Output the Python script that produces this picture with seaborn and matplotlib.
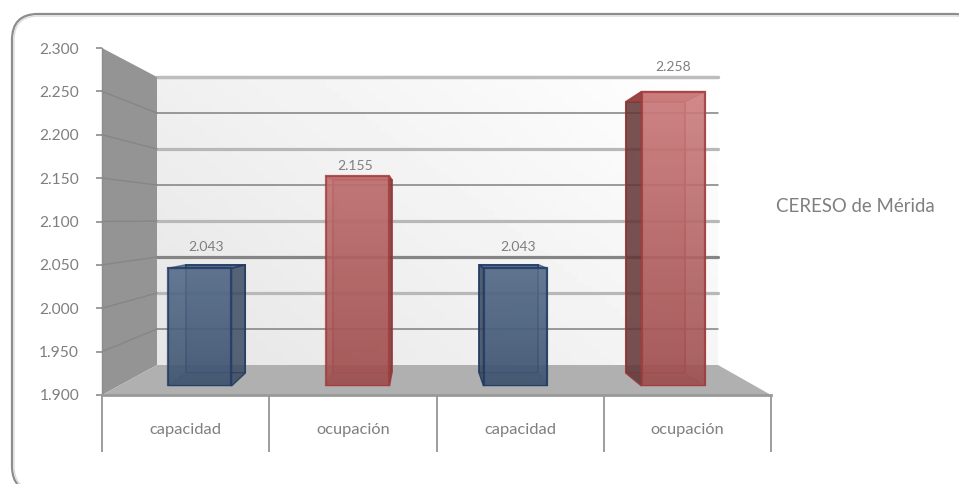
import numpy as np
import pandas as pd
import matplotlib.pyplot as plt
import seaborn as sns
from matplotlib.colors import to_rgb
from matplotlib.patches import FancyBboxPatch, Polygon
from matplotlib.transforms import IdentityTransform

# values
categories = ["capacidad", "ocupación", "capacidad", "ocupación"]
values = [2.043, 2.155, 2.043, 2.258]
kinds = ["cap", "ocu", "cap", "ocu"]
y_ticks = [1.9, 1.95, 2.0, 2.05, 2.1, 2.15, 2.2, 2.25, 2.3]
series_name = "CERESO de Mérida"

sns.set_theme(style="white")
plt.rcParams['font.family'] = ['Lato', 'DejaVu Sans']

W, H = 959, 484
GREY = "#7f7f7f"
face = {"cap": ("#7890b0", "#3e5370"), "ocu": ("#cc7c7c", "#9f4f4f")}
edge = {"cap": "#1f3a63", "ocu": "#a23a3a"}
side = {"cap": "#36455c", "ocu": "#5e3434"}

# the gridlines on the back wall alternate in the original
grid_style = {1.95: ("#808080", 1.1), 2.0: ("#b8b8b8", 2.3), 2.05: ("#858585", 2.3),
              2.1: ("#b8b8b8", 2.3), 2.15: ("#808080", 1.1), 2.2: ("#b8b8b8", 2.3),
              2.25: ("#808080", 1.1), 2.3: ("#bdbdbd", 2.5)}

df = pd.DataFrame({"slot": range(4), "value": values, "kind": kinds})

fig = plt.figure(figsize=(W / 100, H / 100), dpi=100)


def axes_px(x0, y0, x1, y1, z):
    # axes placed by pixel box, y counted from the top of the picture
    ax = fig.add_axes([x0 / W, 1 - y1 / H, (x1 - x0) / W, (y1 - y0) / H], zorder=z)
    ax.patch.set_alpha(0)
    return ax


# rounded frame runs off the right and bottom of the picture
# (filled white, an unfilled path gets bent when agg clips it at the canvas edge)
ax_top = axes_px(0, 0, W, H, -1)
ax_top.set_axis_off()
ax_top.set_xlim(0, W)
ax_top.set_ylim(H, 0)
ax_top.add_patch(FancyBboxPatch((12, 14), 968, 478, boxstyle="round,pad=0,rounding_size=26",
                                fc="white", ec="#8c8c8c", lw=1.6, clip_on=False))
ax_top.add_patch(FancyBboxPatch((14, 16), 964, 474, boxstyle="round,pad=0,rounding_size=24",
                                fc="white", ec="#dcdcdc", lw=1, clip_on=False))
ax_top.text(776, 207, series_name, color=GREY, fontsize=13.4, va="center", ha="left")

# back wall
ax_wall = axes_px(157, 77, 718, 365, 0)
ax_wall.set_axis_off()
xx, yy = np.meshgrid(np.linspace(0, 1, 80), np.linspace(0, 1, 80))
ax_wall.imshow(0.90 + 0.10 * (xx * 0.6 + yy * 0.4), cmap="gray", vmin=0, vmax=1,
               extent=(0, 1, 1.9, 2.3), aspect="auto", origin="lower")
ax_wall.set_xlim(0, 1)
ax_wall.set_ylim(1.9, 2.3)
for v, (c, lw) in grid_style.items():
    ax_wall.axhline(v, color=c, lw=lw, clip_on=False)

# front plane holds the axis ticks and category labels
ax_plane = axes_px(102, 48, 771, 395, 2)
ax_plane.set_xlim(0, 4)
ax_plane.set_ylim(1.9, 2.3)
for s in ["top", "right"]:
    ax_plane.spines[s].set_visible(False)
ax_plane.spines["left"].set_color("#8c8c8c")
ax_plane.spines["left"].set_linewidth(1)
ax_plane.spines["bottom"].set_color("#999999")
ax_plane.spines["bottom"].set_linewidth(2)
ax_plane.set_yticks(y_ticks)
ax_plane.set_yticklabels(["%.3f" % t for t in y_ticks], color=GREY, fontsize=11.2)
ax_plane.tick_params(axis="y", left=True, length=4, width=1.2, color="#8c8c8c", pad=12.5)
ax_plane.set_xticks(range(5))
ax_plane.set_xticklabels([])
ax_plane.tick_params(axis="x", bottom=True, length=41, width=1.2, color="#8c8c8c", which="major")
ax_plane.set_xticks([i + 0.5 for i in range(4)], minor=True)
ax_plane.set_xticklabels(categories, minor=True, color=GREY, fontsize=11.8)
ax_plane.tick_params(axis="x", which="minor", bottom=False, length=0, pad=20)

# side wall and floor, spanned between the front plane and the back wall
ax_floor = axes_px(0, 0, W, H, 1)
ax_floor.set_axis_off()
to_disp_f = ax_plane.transData.transform
to_disp_w = ax_wall.transData.transform
pf = lambda x, y: to_disp_f((x, y))
pw = lambda x, y: to_disp_w((x, y))
ax_floor.add_patch(Polygon([pf(0, 2.3), pw(0, 2.3), pw(0, 1.9), pf(0, 1.9)], fc="#949494", ec="none",
                           transform=IdentityTransform()))
ax_floor.add_patch(Polygon([pf(0, 1.9), pw(0, 1.9), pw(1, 1.9), pf(4, 1.9)], fc="#b0b0b0", ec="none",
                           transform=IdentityTransform()))
for v in y_ticks[1:-1]:
    a, b = pf(0, v), pw(0, v)
    ax_floor.plot([a[0], b[0]], [a[1], b[1]], color="#868686", lw=1, transform=IdentityTransform())

# bars: one seaborn barplot for the back faces, one for the front faces
ax_back = axes_px(142.4, 70, 728.6, 373, 3)
sns.barplot(data=df, x="slot", y="value", ax=ax_back, width=0.405, color="grey", legend=False)
ax_front = axes_px(120.5, 57, 752.5, 386, 5)
sns.barplot(data=df, x="slot", y="value", ax=ax_front, width=0.405, color="grey", legend=False)
for ax in [ax_back, ax_front]:
    ax.set_xlim(-0.5, 3.5)
    ax.set_ylim(1.9, 2.3)
    ax.set_axis_off()
    # the value axis starts at 1.900, so the bars do too
    for bar, v in zip(ax.patches, values):
        bar.set_y(1.9)
        bar.set_height(v - 1.9)

ax_side = axes_px(0, 0, W, H, 4)
ax_side.set_axis_off()
label_shift = [(7, 21), (-2, 10), (3, 21), (0, 25)]

for i, (pb, pt) in enumerate(zip(ax_back.patches, ax_front.patches)):
    k = kinds[i]
    pb.set_facecolor(to_rgb(face[k][1]) + (0.3,))
    pb.set_edgecolor(to_rgb(edge[k]) + (0.8,))
    pb.set_linewidth(1.4)
    (bx0, by0), (bx1, by1) = ax_back.transData.transform(pb.get_bbox().get_points())
    (fx0, fy0), (fx1, fy1) = ax_front.transData.transform(pt.get_bbox().get_points())

    # outer side, top and bottom faces
    polys = []
    if bx1 > fx1:
        polys.append(([(fx1, fy0), (bx1, by0), (bx1, by1), (fx1, fy1)], side[k], 0.75))
    if bx0 < fx0:
        polys.append(([(fx0, fy0), (bx0, by0), (bx0, by1), (fx0, fy1)], side[k], 0.8))
    polys.append(([(fx0, fy0), (fx1, fy0), (bx1, by0), (bx0, by0)], side[k], 0.3))
    polys.append(([(fx0, fy1), (fx1, fy1), (bx1, by1), (bx0, by1)], edge[k], 0.6))
    for pts, c, al in polys:
        ax_side.add_patch(Polygon(pts, fc=c, ec=edge[k], lw=1, alpha=al, transform=IdentityTransform()))

    # front face gradient, shared over the height so taller bars reach lighter colours
    c_top, c_bot = np.array(to_rgb(face[k][0])), np.array(to_rgb(face[k][1]))
    frac = (values[i] - 1.9) / (max(values) - 1.9)
    grad = np.linspace(frac, 0, 64)[:, None, None]
    rgba = np.concatenate([c_bot + (c_top - c_bot) * grad, np.full((64, 1, 1), 0.9)], axis=2)
    x0, y0 = pt.get_x(), pt.get_y()
    ax_front.imshow(rgba, extent=(x0, x0 + pt.get_width(), y0, y0 + pt.get_height()),
                    aspect="auto", origin="upper", zorder=1)
    pt.set_facecolor("none")
    pt.set_edgecolor(edge[k])
    pt.set_linewidth(1.6)
    pt.set_alpha(0.8)
    pt.set_zorder(2)

    dx, dy = label_shift[i]
    ax_front.annotate("%.3f" % values[i], (pt.get_x() + pt.get_width() / 2, values[i]),
                      xytext=(dx * 0.72, dy * 0.72), textcoords="offset points", ha="center", va="center",
                      color=GREY, fontsize=10, annotation_clip=False, zorder=6)

ax_front.set_xlim(-0.5, 3.5)
ax_front.set_ylim(1.9, 2.3)

fig.savefig("out.png", dpi=100)
